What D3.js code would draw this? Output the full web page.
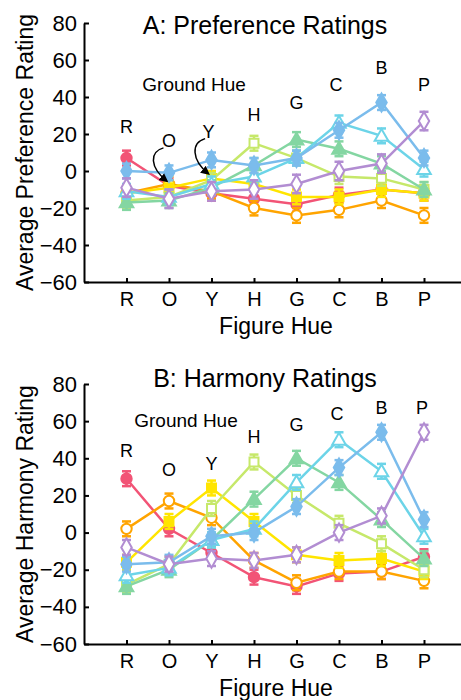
<!DOCTYPE html>
<html>
<head>
<meta charset="utf-8">
<script src="https://cdn.jsdelivr.net/npm/d3@7"></script>
<style>
  body { margin: 0; background: #fff; }
  svg { display: block; font-family: "Liberation Sans", Arial, sans-serif; }
  .axis path, .axis line { stroke: #000; stroke-width: 2; }
  .axis text { fill: #000; }
</style>
</head>
<body>
<div id="chart"></div>
<script>
// figure hue along x, one line per ground hue
var figureHues = ["R", "O", "Y", "H", "G", "C", "B", "P"];
var groundHues = ["R", "O", "Y", "H", "G", "C", "B", "P"];

var hueColors = ["#f25476", "#ffa400", "#ffe500", "#c6e86a", "#84d6a2", "#6cd4e8", "#7bbcec", "#b28dd2"];
var hueShapes = ["circle", "circle", "square", "square", "triangle", "triangle", "diamond", "diamond"];
var hueFilled = [true, false, true, false, true, false, true, false];

// A: preference ratings (rows = ground hue)
var prefR = [  7,  -8, -12, -15, -18, -13, -10, -12];
var prefO = [-12,  -7, -11, -20, -24, -21, -16, -24];
var prefY = [-12,  -9,  -4,  -7, -14, -14, -10, -12];
var prefH = [-16, -14,  -5,  15,   7,  -3,  -4, -10];
var prefG = [-17, -16,  -9,   3,  17,  12,   4, -10];
var prefC = [-11, -14,  -7,  -3,   7,  26,  19,   1];
var prefB = [  0,  -1,   6,   3,   7,  22,  37,   7];
var prefP = [ -9, -15, -11, -10,  -7,   0,   4,  27];
var prefErr = [4, 4, 4, 4, 4, 4, 4, 5];

// B: harmony ratings
var harmR = [ 29,   2, -11, -24, -29, -22, -21, -13];
var harmO = [  2,  17,   8, -15, -27, -21, -21, -26];
var harmY = [-16,   6,  24,   6, -12, -15, -14, -21];
var harmH = [-28, -17,  13,  38,  20,   5,  -6, -20];
var harmG = [-29, -20,  -4,  18,  40,  27,   7, -14];
var harmC = [-23, -19,  -4,   2,  27,  50,  33,  -2];
var harmB = [-17, -16,  -2,   0,  14,  35,  54,   7];
var harmP = [ -8, -17, -14, -15, -12,   0,   9,  54];
var harmErr = [4, 4, 4, 4, 4, 4, 4, 4];

var yTicks = [-60, -40, -20, 0, 20, 40, 60, 80];

var width = 461, height = 700;

var svg = d3.select("#chart").append("svg")
    .attr("width", width)
    .attr("height", height);

var defs = svg.append("defs");
defs.append("marker")
    .attr("id", "arrowhead")
    .attr("viewBox", "0 0 10 10")
    .attr("refX", 8).attr("refY", 5)
    .attr("markerWidth", 6).attr("markerHeight", 6)
    .attr("orient", "auto")
  .append("path")
    .attr("d", "M0,0 L10,5 L0,10 z")
    .attr("fill", "#000");

var x = d3.scaleLinear().domain([0, 9]).range([84, 466.5]);

var symbolTypes = {
  circle: d3.symbolCircle,
  square: d3.symbolSquare,
  triangle: d3.symbolTriangle,
  diamond: d3.symbolDiamond
};
var symbolSizes = { circle: 85, square: 80, triangle: 80, diamond: 95 };

function drawPanel(opts) {
  var g = svg.append("g");
  var y = d3.scaleLinear().domain([-60, 80]).range([opts.bottom, opts.top]);

  // title
  g.append("text")
      .attr("x", 265).attr("y", opts.titleY)
      .attr("text-anchor", "middle")
      .style("font-size", "25px")
      .text(opts.title);

  // y axis
  var yAxis = g.append("g")
      .attr("class", "axis")
      .attr("transform", "translate(" + x(0) + ",0)")
      .call(d3.axisLeft(y).tickValues(yTicks).tickSizeInner(-5).tickSizeOuter(0).tickPadding(7));
  yAxis.selectAll("text").style("font-size", "22px");

  // x axis
  var xAxis = g.append("g")
      .attr("class", "axis")
      .attr("transform", "translate(0," + y(-60) + ")")
      .call(d3.axisBottom(x)
        .tickValues(d3.range(1, 9))
        .tickFormat(function(d) { return figureHues[d - 1]; })
        .tickSizeInner(-4).tickSizeOuter(0).tickPadding(10));
  xAxis.selectAll("text").style("font-size", "20px");

  g.append("text")
      .attr("x", 276).attr("y", y(-60) + 52)
      .attr("text-anchor", "middle")
      .style("font-size", "23px")
      .text("Figure Hue");

  g.append("text")
      .attr("transform", "translate(33," + (opts.top + opts.bottom) / 2 + ") rotate(-90)")
      .attr("text-anchor", "middle")
      .style("font-size", "23px")
      .text(opts.yLabel);

  // series
  var line = d3.line()
      .x(function(d, i) { return x(i + 1); })
      .y(function(d) { return y(d); });

  opts.series.forEach(function(vals, s) {
    var color = hueColors[s];
    var err = opts.err[s];
    var sg = g.append("g");

    sg.append("path")
        .datum(vals)
        .attr("d", line)
        .attr("fill", "none")
        .attr("stroke", color)
        .attr("stroke-width", 2.5);

    var bars = sg.selectAll("g.err").data(vals).enter().append("g");
    bars.append("line")
        .attr("x1", function(d, i) { return x(i + 1); })
        .attr("x2", function(d, i) { return x(i + 1); })
        .attr("y1", function(d) { return y(d - err); })
        .attr("y2", function(d) { return y(d + err); })
        .attr("stroke", color).attr("stroke-width", 2.5);
    [-1, 1].forEach(function(sign) {
      bars.append("line")
          .attr("x1", function(d, i) { return x(i + 1) - 4.5; })
          .attr("x2", function(d, i) { return x(i + 1) + 4.5; })
          .attr("y1", function(d) { return y(d + sign * err); })
          .attr("y2", function(d) { return y(d + sign * err); })
          .attr("stroke", color).attr("stroke-width", 2.5);
    });

    var shape = hueShapes[s];
    sg.selectAll("path.mark").data(vals).enter().append("path")
        .attr("class", "mark")
        .attr("transform", function(d, i) {
          var dy = shape === "triangle" ? 1 : 0;
          return "translate(" + x(i + 1) + "," + (y(d) + dy) + ")";
        })
        .attr("d", d3.symbol().type(symbolTypes[shape]).size(symbolSizes[shape]))
        .attr("fill", hueFilled[s] ? color : "#fff")
        .attr("stroke", color)
        .attr("stroke-width", 2);
  });

  // ground hue annotations
  g.append("text")
      .attr("x", x(opts.groundLabel[0])).attr("y", y(opts.groundLabel[1]))
      .attr("text-anchor", "middle")
      .style("font-size", "19px")
      .text("Ground Hue");

  groundHues.forEach(function(h, i) {
    g.append("text")
        .attr("x", x(i + 1) + (opts.labelDx[i] || 0)).attr("y", y(opts.labelY[i]))
        .attr("text-anchor", "middle")
        .style("font-size", "18px")
        .text(h);
  });

  if (opts.arrows) {
    opts.arrows.forEach(function(a) {
      var x0 = x(a.from[0]), y0 = y(a.from[1]);
      var x1 = x(a.to[0]), y1 = y(a.to[1]);
      g.append("path")
          .attr("d", "M" + x0 + "," + y0 +
                " C" + (x0 - 14) + "," + (y0 + 4) + " " + (x0 - 14) + "," + (y1 - 14) + " " + x1 + "," + y1)
          .attr("fill", "none")
          .attr("stroke", "#000")
          .attr("stroke-width", 1.5)
          .attr("marker-end", "url(#arrowhead)");
    });
  }
}

drawPanel({
  title: "A: Preference Ratings",
  yLabel: "Average Preference Rating",
  top: 23, bottom: 282, titleY: 34,
  series: [prefR, prefO, prefY, prefH, prefG, prefC, prefB, prefP],
  err: prefErr,
  groundLabel: [2.59, 43.5],
  labelY: [20.5, 13, 18, 27, 33.5, 43, 52.4, 43],
  labelDx: [0, 0, -3, 0, 0, -3, 0, 0],
  arrows: [
    { from: [1.87, 12.5], to: [1.95, -5.5] },
    { from: [2.85, 17.5], to: [2.93, -1.5] }
  ]
});

drawPanel({
  title: "B: Harmony Ratings",
  yLabel: "Average Harmony Rating",
  top: 384, bottom: 644, titleY: 387,
  series: [harmR, harmO, harmY, harmH, harmG, harmC, harmB, harmP],
  err: harmErr,
  groundLabel: [2.4, 56.8],
  labelY: [40.7, 30.5, 33.7, 48, 54.7, 60.6, 64, 64],
  labelDx: [0, 0, 0, 0, 0, -2, 0, -2]
});
</script>
</body>
</html>
